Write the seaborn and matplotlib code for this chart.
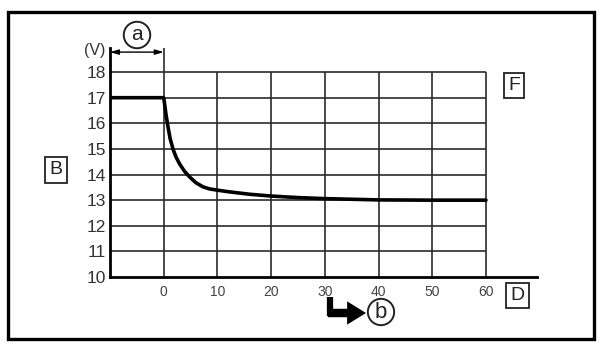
import matplotlib
matplotlib.use("Agg")
import matplotlib.pyplot as plt
import seaborn as sns
import pandas as pd
from matplotlib.patches import Rectangle, FancyArrowPatch
from matplotlib.lines import Line2D

# Data
time_x = [-10, 0, 0.2, 0.4, 0.8, 1.2, 1.75, 2.3, 3, 3.9, 4.85, 6, 7.3, 8.5, 10, 12, 14, 16, 20, 25, 30, 40, 50, 60]
volt_y = [17, 17, 16.7, 16.38, 15.86, 15.4, 14.98, 14.68, 14.4, 14.12, 13.9, 13.68, 13.52, 13.44, 13.39, 13.33, 13.28, 13.23, 13.16, 13.1, 13.06, 13.01, 13.0, 13.0]
x_ticks = [0, 10, 20, 30, 40, 50, 60]
y_ticks = [10, 11, 12, 13, 14, 15, 16, 17, 18]
y_unit = "(V)"
label_a = "a"
label_b = "b"
label_left = "B"
label_top = "F"
label_bottom = "D"

sns.set_style("white")
plt.rcParams['font.family'] = ['Liberation Sans', 'DejaVu Sans']

W, H = 601, 345
fig = plt.figure(figsize=(W / 100, H / 100), dpi=100)

def fx(px):
    return px / W

def fy(py):
    return 1 - py / H

ax = fig.add_axes([fx(110), fy(277), (537 - 110) / W, (277 - 48) / H])
df = pd.DataFrame({"t": time_x, "v": volt_y})

xmin, xmax = -10, 69.5
ymin, ymax = 10, 18.94
ax.set_xlim(xmin, xmax)
ax.set_ylim(ymin, ymax)

gc = "#2b2b2b"
# grid
ax.hlines(y_ticks[1:], -10, 60, color=gc, lw=1.2, zorder=1)
ax.vlines(x_ticks[1:], ymin, 18, color=gc, lw=1.2, zorder=1)
ax.vlines([0], ymin, ymax, color=gc, lw=1.2, zorder=1)

sns.lineplot(data=df, x="t", y="v", ax=ax, color="black", lw=2.6, zorder=3)
for l in ax.lines:
    l.set_solid_joinstyle("round")

for s in ["top", "right"]:
    ax.spines[s].set_visible(False)
for s in ["left", "bottom"]:
    ax.spines[s].set_linewidth(2.0)
    ax.spines[s].set_color("black")

ax.set_xticks(x_ticks)
ax.set_yticks(y_ticks)
ax.set_xticklabels([str(v) for v in x_ticks], fontsize=10, color="#444444")
ax.set_yticklabels([str(v) for v in y_ticks], fontsize=12.5, color="#333333")
ax.tick_params(axis="both", length=0)
ax.tick_params(axis="x", pad=6)
ax.tick_params(axis="y", pad=3)
ax.set_xlabel("")
ax.set_ylabel("")

# (V) unit label
fig.text(fx(95), fy(50), y_unit, fontsize=11.5, color="#333333", ha="center", va="center")

# double arrow (a)
ax.annotate("", xy=(0, 18.78), xytext=(-10, 18.78),
            arrowprops=dict(arrowstyle="<|-|>,head_length=0.5,head_width=0.15",
                            color="black", lw=1.0, shrinkA=0, shrinkB=0))
fig.text(fx(137), fy(35), label_a, fontsize=15, ha="center", va="center", color="#222222",
         bbox=dict(boxstyle="circle,pad=0.18", fc="white", ec="#222222", lw=1.4))

# boxed letters
for lab, px, py in [(label_left, 56, 170), (label_top, 514, 85.5), (label_bottom, 517.5, 295.5)]:
    fig.text(fx(px), fy(py), lab, fontsize=14, ha="center", va="center", color="#222222",
             bbox=dict(boxstyle="square,pad=0.22", fc="white", ec="#222222", lw=1.3))

# bent arrow: vertical stem + horizontal filled arrow
fig.add_artist(Line2D([fx(330), fx(330)], [fy(297), fy(316)], transform=fig.transFigure,
                      color="black", lw=4.5, solid_capstyle="butt"))
fig.add_artist(FancyArrowPatch((fx(327.8), fy(313)), (fx(366), fy(313)), transform=fig.transFigure,
                               arrowstyle="simple,head_length=0.85,head_width=1.05,tail_width=0.38",
                               mutation_scale=16, lw=0, color="black", shrinkA=0, shrinkB=0))
fig.text(fx(381), fy(312), label_b, fontsize=16, ha="center", va="center", color="#222222",
         bbox=dict(boxstyle="circle,pad=0.12", fc="white", ec="#222222", lw=1.4))

# outer frame
fig.add_artist(Rectangle((fx(8), fy(339)), (594 - 8) / W, (339 - 12) / H,
                         transform=fig.transFigure, fill=False, ec="black", lw=2.4))

fig.savefig("out.png", dpi=100)
